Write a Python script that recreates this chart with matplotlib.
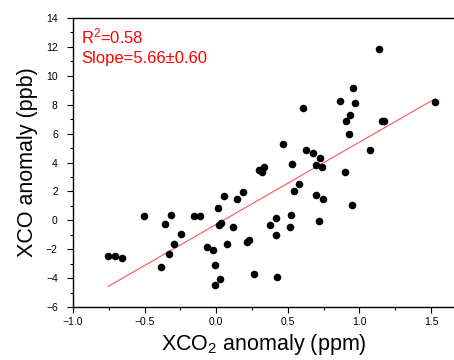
import numpy as np
import matplotlib
matplotlib.use("Agg")
import matplotlib.pyplot as plt
from matplotlib.ticker import MultipleLocator

plt.rcParams['font.family'] = ['Liberation Sans', 'DejaVu Sans']
plt.rcParams['mathtext.fontset'] = 'custom'
plt.rcParams['mathtext.rm'] = 'Liberation Sans'
plt.rcParams['mathtext.it'] = 'Liberation Sans:italic'

# XCO2 anomaly (ppm) vs XCO anomaly (ppb)
xco2 = [-0.756, -0.707, -0.66, -0.505, -0.358, -0.318, -0.386, -0.327, -0.295, -0.246,
        -0.157, -0.112, -0.067, -0.026, -0.007, -0.007, 0.026, 0.015, 0.017, 0.03,
        0.053, 0.073, 0.114, 0.143, 0.185, 0.216, 0.228, 0.262, 0.297, 0.334,
        0.316, 0.545, 0.578, 0.696, 0.745, 0.95, 0.376, 0.416, 0.524, 0.515,
        0.416, 0.716, 0.425, 0.896, 1.135, 0.955, 0.866, 0.966, 0.607, 0.936,
        0.905, 1.155, 1.172, 0.926, 1.528, 0.466, 0.625, 0.676, 0.725, 1.075,
        0.695, 0.737, 0.526]
xco = [-2.45, -2.45, -2.63, 0.28, -0.23, 0.40, -3.24, -2.33, -1.63, -0.93,
       0.28, 0.28, -1.82, -2.04, -3.12, -4.45, -4.04, 0.87, -0.30, -0.20,
       1.68, -1.63, -0.43, 1.47, 1.96, -1.53, -1.36, -3.74, 3.48, 3.71,
       3.37, 2.05, 2.49, 1.78, 1.45, 1.06, -0.33, 0.18, 0.39, -0.43,
       -1.04, -0.03, -3.92, 3.34, 11.88, 9.17, 8.29, 8.1, 7.78, 7.28,
       6.9, 6.9, 6.9, 5.98, 8.2, 5.28, 4.88, 4.68, 4.29, 4.88,
       3.82, 3.67, 3.9]

x = np.array(xco2)
y = np.array(xco)
slope, intercept = np.polyfit(x, y, 1)
xf = np.array([x.min(), x.max()])

fig = plt.figure(figsize=(4.54, 3.6), dpi=100)
ax = fig.add_axes([0.161, 0.147, 0.839, 0.803])

ax.scatter(x, y, s=30, color='black', zorder=3, linewidths=0)
ax.plot(xf, slope*xf + intercept, color='#ff5555', lw=0.8, zorder=2)

ax.set_xlim(-1.0, 1.66)
ax.set_ylim(-6, 14)
ax.xaxis.set_major_locator(MultipleLocator(0.5))
ax.xaxis.set_minor_locator(MultipleLocator(0.25))
ax.yaxis.set_major_locator(MultipleLocator(2))
ax.yaxis.set_minor_locator(MultipleLocator(1))
ax.tick_params(which='both', direction='out', labelsize=7.5, top=False, right=False, width=0.8)
ax.tick_params(which='major', length=4)
ax.tick_params(which='minor', length=2.5)
ax.tick_params(axis='y', which='major', pad=7)
ax.spines['right'].set_visible(False)
for s in ['left', 'bottom', 'top']:
    ax.spines[s].set_linewidth(1.0)

ax.set_xlabel('XCO$_2$ anomaly (ppm)', fontsize=15.5, labelpad=3)
ax.set_ylabel('XCO anomaly (ppb)', fontsize=15.5, labelpad=6)

ax.text(0.021, 0.913, 'R$^2$=0.58', color='red', fontsize=12, transform=ax.transAxes)
ax.text(0.021, 0.844, 'Slope=5.66\u00b10.60', color='red', fontsize=12, transform=ax.transAxes)

fig.savefig('out.png', dpi=100)
